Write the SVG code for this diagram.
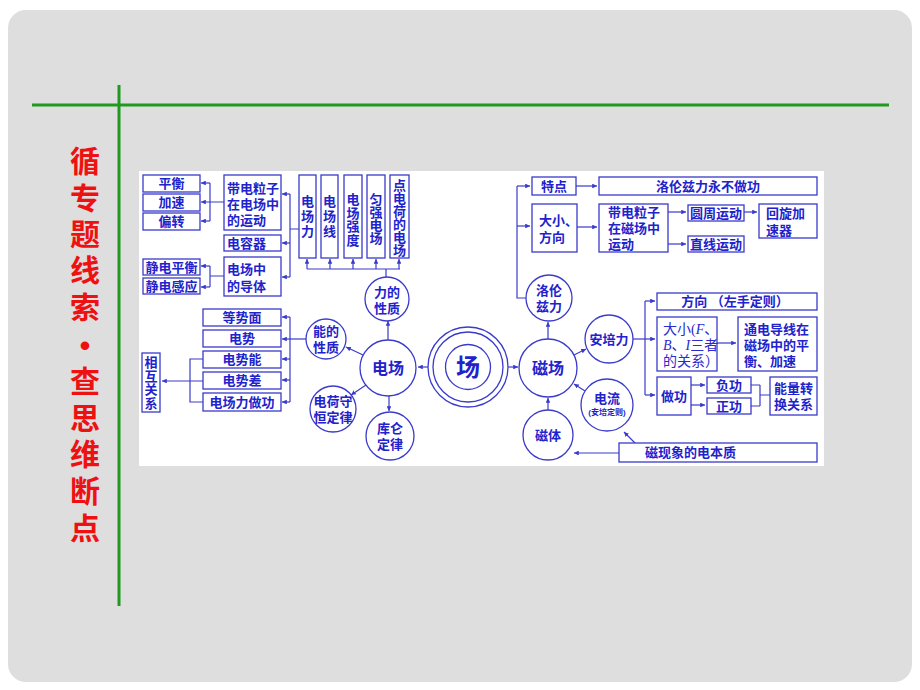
<svg xmlns="http://www.w3.org/2000/svg" width="920" height="690" viewBox="0 0 920 690">
<defs>
<style>
.b{fill:#fff;stroke:#3a3acc;stroke-width:1.3}
.c{fill:#fff;stroke:#3a3acc;stroke-width:1.3}
.l{fill:none;stroke:#3a3acc;stroke-width:1.2}
.t{font-family:"Liberation Sans","Noto Sans CJK SC",sans-serif;font-weight:bold;font-size:13px;fill:#2222cc;dominant-baseline:central}
.v{font-family:"Noto Sans CJK SC",sans-serif;font-weight:bold;font-size:13px;fill:#2222cc;writing-mode:tb;text-anchor:middle}
.m{text-anchor:middle}
.big{font-size:16px}
.sm{font-size:8px}
.sf{font-family:"Liberation Serif","Noto Sans CJK SC",serif;font-weight:normal;font-size:14px;fill:#2a2ad0;dominant-baseline:central}
.red{font-family:"Liberation Sans","Noto Sans CJK SC",sans-serif;font-weight:bold;font-size:30px;fill:#ee1111;text-anchor:middle;dominant-baseline:central}
</style>
<marker id="a" viewBox="0 0 6 6" refX="6" refY="3" markerWidth="4" markerHeight="4" orient="auto"><path d="M0,0 L6,3 L0,6z" fill="#3a3acc"/></marker>
</defs>
<rect x="0" y="0" width="920" height="690" fill="#ffffff"/>
<rect x="8" y="10" width="904" height="672" rx="18" fill="#dedede"/>
<g id="frame">
<line x1="32" y1="105" x2="889" y2="105" stroke="#1f9a1f" stroke-width="3"/>
<line x1="119" y1="85" x2="119" y2="606" stroke="#1f9a1f" stroke-width="3"/>
</g>
<g id="title">
<text class="red" x="85" y="161">循</text>
<text class="red" x="85" y="198">专</text>
<text class="red" x="85" y="234">题</text>
<text class="red" x="85" y="270">线</text>
<text class="red" x="85" y="307">索</text>
<text class="red" x="85" y="345">•</text>
<text class="red" x="85" y="381">查</text>
<text class="red" x="85" y="418">思</text>
<text class="red" x="85" y="454">维</text>
<text class="red" x="85" y="491">断</text>
<text class="red" x="85" y="528">点</text>
</g>
<rect x="139" y="171" width="685" height="295" fill="#ffffff"/>
<g id="connectors" class="l">
<path d="M210,183 V221 M224,202 H201" marker-end="url(#a)"/>
<path d="M210,183 H201" marker-end="url(#a)"/>
<path d="M210,221 H201" marker-end="url(#a)"/>
<path d="M210,266 V287 M224,276 H210"/>
<path d="M210,266 H201" marker-end="url(#a)"/>
<path d="M210,287 H201" marker-end="url(#a)"/>
<path d="M290,194 V277 M299,229 H290"/>
<path d="M290,194 H282" marker-end="url(#a)"/>
<path d="M290,243 H282" marker-end="url(#a)"/>
<path d="M290,277 H282" marker-end="url(#a)"/>
<path d="M307,269 H400 M386,269 V278"/>
<path d="M307,269 V259" marker-end="url(#a)"/>
<path d="M330,269 V259" marker-end="url(#a)"/>
<path d="M353,269 V259" marker-end="url(#a)"/>
<path d="M376,269 V259" marker-end="url(#a)"/>
<path d="M399,269 V259" marker-end="url(#a)"/>
<path d="M307,339 H282" marker-end="url(#a)"/>
<path d="M290,317 V402"/>
<path d="M290,317 H282" marker-end="url(#a)"/>
<path d="M290,359 H282" marker-end="url(#a)"/>
<path d="M290,380 H282" marker-end="url(#a)"/>
<path d="M290,402 H282" marker-end="url(#a)"/>
<path d="M203,359 H190 V402 H203"/>
<path d="M203,381 H162" marker-end="url(#a)"/>
<path d="M388,340 V321" marker-end="url(#a)"/>
<path d="M363,355 L346,347" marker-end="url(#a)"/>
<path d="M366,385 L351,395" marker-end="url(#a)"/>
<path d="M389,396 V411" marker-end="url(#a)"/>
<path d="M428,367 H418" marker-end="url(#a)"/>
<path d="M508,367 H518" marker-end="url(#a)"/>
<path d="M548,339 V322" marker-end="url(#a)"/>
<path d="M574,355 L586,349" marker-end="url(#a)"/>
<path d="M585,391 L574,384" marker-end="url(#a)"/>
<path d="M548,410 V398" marker-end="url(#a)"/>
<path d="M619,453 H574" marker-end="url(#a)"/>
<path d="M635,443 L624,432" marker-end="url(#a)"/>
<path d="M526,298 H517 V186"/>
<path d="M517,186 H530" marker-end="url(#a)"/>
<path d="M517,226 H530" marker-end="url(#a)"/>
<path d="M576,186 H597" marker-end="url(#a)"/>
<path d="M577,227 H597" marker-end="url(#a)"/>
<path d="M668,212 H686" marker-end="url(#a)"/>
<path d="M668,244 H686" marker-end="url(#a)"/>
<path d="M744,212 H757" marker-end="url(#a)"/>
<path d="M633,339 H655" marker-end="url(#a)"/>
<path d="M645,301 V395"/>
<path d="M645,301 H655" marker-end="url(#a)"/>
<path d="M645,395 H655" marker-end="url(#a)"/>
<path d="M717,343 H736" marker-end="url(#a)"/>
<path d="M691,385 H705" marker-end="url(#a)"/>
<path d="M691,405 H705" marker-end="url(#a)"/>
<path d="M751,385 H760 M751,406 H760 M760,385 V406 M760,395 H770"/>
</g>
<g id="n-pingheng"><rect class="b" x="143" y="175" width="57" height="17"/><text class="t m" x="171.5" y="183.5">平衡</text></g>
<g id="n-jiasu"><rect class="b" x="143" y="194" width="57" height="17"/><text class="t m" x="171.5" y="202.5">加速</text></g>
<g id="n-pianzhuan"><rect class="b" x="143" y="213" width="57" height="17"/><text class="t m" x="171.5" y="221.5">偏转</text></g>
<g id="n-daidian"><rect class="b" x="224" y="175" width="57" height="55"/><text class="t" x="227" y="188">带电粒子</text><text class="t" x="227" y="204">在电场中</text><text class="t" x="227" y="220">的运动</text></g>
<g id="n-dianrongqi"><rect class="b" x="224" y="235" width="57" height="16"/><text class="t" x="227" y="243">电容器</text></g>
<g id="n-daoti"><rect class="b" x="224" y="257" width="57" height="39"/><text class="t" x="227" y="269">电场中</text><text class="t" x="227" y="286">的导体</text></g>
<g id="n-jdph"><rect class="b" x="143" y="259" width="57" height="16"/><text class="t m" x="171.5" y="267">静电平衡</text></g>
<g id="n-jdgy"><rect class="b" x="143" y="278" width="57" height="16"/><text class="t m" x="171.5" y="286">静电感应</text></g>
<g id="n-dcl"><rect class="b" x="299" y="175" width="17" height="83"/><text class="v" x="307.5" y="217" letter-spacing="2">电场力</text></g>
<g id="n-dcx"><rect class="b" x="321" y="175" width="17" height="83"/><text class="v" x="329.5" y="217" letter-spacing="2">电场线</text></g>
<g id="n-dcqd"><rect class="b" x="344" y="175" width="18" height="83"/><text class="v" x="353" y="220" letter-spacing="0.5">电场强度</text></g>
<g id="n-yqdc"><rect class="b" x="367" y="175" width="18" height="83"/><text class="v" x="376" y="218.5">匀强电场</text></g>
<g id="n-ddh"><rect class="b" x="390" y="175" width="19" height="83"/><text class="v" x="399.5" y="217.5">点电荷的电场</text></g>
<g id="n-lidexingzhi"><circle class="c" cx="387" cy="299" r="22"/><text class="t m" x="387" y="292">力的</text><text class="t m" x="387" y="308">性质</text></g>
<g id="n-dengshimian"><rect class="b" x="203" y="309" width="78" height="17"/><text class="t m" x="242" y="317.5">等势面</text></g>
<g id="n-dianshi"><rect class="b" x="203" y="330" width="78" height="17"/><text class="t m" x="242" y="338.5">电势</text></g>
<g id="n-dianshineng"><rect class="b" x="203" y="351" width="78" height="17"/><text class="t m" x="242" y="359.5">电势能</text></g>
<g id="n-dianshicha"><rect class="b" x="203" y="372" width="78" height="17"/><text class="t m" x="242" y="380.5">电势差</text></g>
<g id="n-dclzg"><rect class="b" x="203" y="393" width="78" height="18"/><text class="t m" x="242" y="402">电场力做功</text></g>
<g id="n-xhgx"><rect class="b" x="142" y="353" width="18" height="59"/><text class="v" x="151" y="383" letter-spacing="0.5">相互关系</text></g>
<g id="n-nengdexingzhi"><circle class="c" cx="326" cy="339" r="20"/><text class="t m" x="326" y="331">能的</text><text class="t m" x="326" y="347">性质</text></g>
<g id="n-dianchang"><circle class="c" cx="388" cy="368" r="28"/><text class="t m big" x="388" y="368">电场</text></g>
<g id="n-dhsh"><circle class="c" cx="333" cy="409" r="23"/><text class="t m" x="333" y="401">电荷守</text><text class="t m" x="333" y="417">恒定律</text></g>
<g id="n-kulun"><circle class="c" cx="390" cy="436" r="24"/><text class="t m" x="390" y="428">库仑</text><text class="t m" x="390" y="444">定律</text></g>
<g id="n-chang"><circle class="c" cx="468" cy="367" r="40"/><circle class="c" cx="468" cy="367" r="35"/><circle class="c" cx="468" cy="367" r="22.5"/><text class="t m" x="468" y="367" style="font-size:24px">场</text></g>
<g id="n-cichang"><circle class="c" cx="548" cy="368" r="29"/><text class="t m big" x="548" y="368">磁场</text></g>
<g id="n-luolunzili"><circle class="c" cx="549" cy="298" r="23"/><text class="t m" x="549" y="290">洛伦</text><text class="t m" x="549" y="306">兹力</text></g>
<g id="n-anpeili"><circle class="c" cx="609" cy="339" r="24"/><text class="t m" x="609" y="339">安培力</text></g>
<g id="n-dianliu"><circle class="c" cx="607" cy="405" r="26"/><text class="t m" x="607" y="398">电流</text><text class="t m sm" x="607" y="412">(安培定则)</text></g>
<g id="n-citi"><circle class="c" cx="548" cy="435" r="25"/><text class="t m" x="548" y="435">磁体</text></g>
<g id="n-cxx"><rect class="b" x="619" y="443" width="198" height="19"/><text class="t" x="645" y="452.5">磁现象的电本质</text></g>
<g id="n-tedian"><rect class="b" x="532" y="177" width="44" height="18"/><text class="t m" x="554" y="186">特点</text></g>
<g id="n-yongbuzuogong"><rect class="b" x="599" y="177" width="218" height="18"/><text class="t m" x="708" y="186">洛伦兹力永不做功</text></g>
<g id="n-daxiaofangxiang"><rect class="b" x="532" y="204" width="45" height="48"/><text class="t" x="539" y="220">大小、</text><text class="t" x="539" y="237">方向</text></g>
<g id="n-cichangyundong"><rect class="b" x="599" y="204" width="69" height="48"/><text class="t" x="608" y="212">带电粒子</text><text class="t" x="608" y="228">在磁场中</text><text class="t" x="608" y="244">运动</text></g>
<g id="n-yuanzhou"><rect class="b" x="688" y="205" width="56" height="16"/><text class="t m" x="716" y="213">圆周运动</text></g>
<g id="n-zhixian"><rect class="b" x="688" y="236" width="56" height="16"/><text class="t m" x="716" y="244">直线运动</text></g>
<g id="n-huixuan"><rect class="b" x="759" y="204" width="58" height="34"/><text class="t" x="766" y="213">回旋加</text><text class="t" x="766" y="230">速器</text></g>
<g id="n-fangxiang"><rect class="b" x="657" y="293" width="160" height="17"/><text class="t m" x="735" y="301.5">方向 （左手定则）</text></g>
<g id="n-daxiao"><rect class="b" x="657" y="317" width="60" height="54"/><text class="sf" x="663" y="329">大小(<tspan font-style="italic">F</tspan>、</text><text class="sf" x="663" y="345"><tspan font-style="italic">B</tspan>、<tspan font-style="italic">I</tspan>三者</text><text class="sf" x="663" y="361">的关系）</text></g>
<g id="n-tongdian"><rect class="b" x="738" y="317" width="79" height="54"/><text class="t" x="744" y="329">通电导线在</text><text class="t" x="744" y="345">磁场中的平</text><text class="t" x="744" y="361">衡、加速</text></g>
<g id="n-zuogong"><rect class="b" x="657" y="377" width="34" height="38"/><text class="t m" x="674" y="396">做功</text></g>
<g id="n-fugong"><rect class="b" x="707" y="377" width="44" height="16"/><text class="t m" x="729" y="385">负功</text></g>
<g id="n-zhenggong"><rect class="b" x="707" y="398" width="44" height="16"/><text class="t m" x="729" y="406">正功</text></g>
<g id="n-nengliang"><rect class="b" x="770" y="377" width="47" height="38"/><text class="t" x="774" y="388">能量转</text><text class="t" x="774" y="404">换关系</text></g>
</svg>
